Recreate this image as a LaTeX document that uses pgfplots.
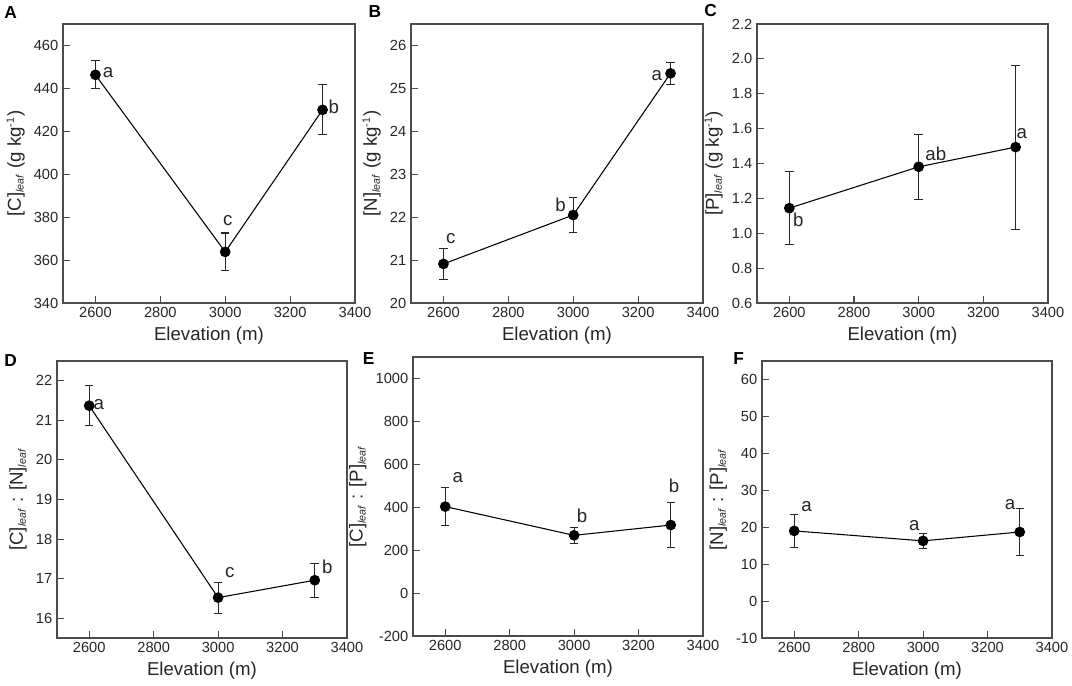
\documentclass[border=0pt]{standalone}
\usepackage{fontspec}
\setmainfont{Liberation Sans}
\usepackage{pgfplots}
\pgfplotsset{compat=1.18}
\newcommand{\lf}{\textsubscript{\fontsize{8}{8}\selectfont\textit{leaf}}}
\newcommand{\inv}{\textsuperscript{\fontsize{8}{8}\selectfont -1}}
\pgfplotsset{
 panel/.style={
   scale only axis, anchor=south west,
   xmin=2500, xmax=3400, xtick={2600,2800,3000,3200,3400},
   tick align=inside, xtick pos=bottom, ytick pos=left,
   major tick length=5.5pt,
   axis line style={line width=0.9pt, black!70},
   every tick/.style={line width=0.8pt, black!70},
   tick label style={font=\fontsize{11}{13}\selectfont, text=black!85},
   label style={font=\fontsize{14}{16}\selectfont, text=black!85},
   xlabel={Elevation (m)},
   /pgf/number format/assume math mode=true,
   /pgf/number format/1000 sep={},
   clip=false,
 },
 dat/.style={black, line width=0.8pt, mark=*, mark size=3.6pt, mark options={solid, fill=black},
   error bars/.cd, y dir=both, y explicit, error bar style={line width=0.8pt, black!85},
   error mark options={line width=0.8pt, mark size=3.2pt, rotate=90, black!85}},
}
\tikzset{
 lab/.style={font=\fontsize{14}{16}\selectfont, inner sep=0pt, text=black!85},
 pl/.style={font=\bfseries\fontsize{13}{13}\selectfont, inner sep=0pt, anchor=base west},
}
\begin{document}
\begin{tikzpicture}
\path[use as bounding box] (0,0) rectangle (804pt,514.5pt);
% A
\begin{axis}[panel, at={(47.25pt,287.25pt)}, width=219pt, height=209.25pt,
  ymin=340, ymax=470, ytick={340,360,...,460},
  ylabel={[C]\lf{} (g kg\inv)}]
\addplot+[dat] coordinates {(2600,446.3) +- (0,6.5) (3000,363.8) +- (0,8.8) (3300,430.0) +- (0,11.7)};
\node[lab] at (axis cs:2639,447.5) {a};
\node[lab] at (axis cs:3008,378.3) {c};
\node[lab] at (axis cs:3335,431.3) {b};
\end{axis}
% B
\begin{axis}[panel, at={(308.25pt,287.25pt)}, width=219pt, height=209.25pt,
  ymin=20, ymax=26.5, ytick={20,21,...,26},
  ylabel={[N]\lf{} (g kg\inv)}]
\addplot+[dat] coordinates {(2600,20.91) +- (0,0.36) (3000,22.05) +- (0,0.40) (3300,25.35) +- (0,0.26)};
\node[lab] at (axis cs:2623,21.5) {c};
\node[lab] at (axis cs:2961,22.28) {b};
\node[lab] at (axis cs:3258,25.29) {a};
\end{axis}
% C
\begin{axis}[panel, at={(567.75pt,287.25pt)}, width=218.25pt, height=209.25pt,
  ymin=0.6, ymax=2.2, ytick={0.6,0.8,...,2.2},
  yticklabel style={/pgf/number format/.cd, fixed, fixed zerofill, precision=1},
  ylabel={[P]\lf{} (g kg\inv)}]
\addplot+[dat] coordinates {(2600,1.144) +- (0,0.21) (3000,1.381) +- (0,0.185) (3300,1.494) +- (0,0.47)};
\node[lab] at (axis cs:2628,1.075) {b};
\node[lab] at (axis cs:3053,1.457) {ab};
\node[lab] at (axis cs:3319,1.572) {a};
\end{axis}
% D
\begin{axis}[panel, at={(42.75pt,36pt)}, width=217.5pt, height=207.75pt,
  ymin=15.5, ymax=22.5, ytick={16,17,...,22},
  ylabel={[C]\lf{} : [N]\lf}]
\addplot+[dat] coordinates {(2600,21.37) +- (0,0.51) (3000,16.52) +- (0,0.39) (3300,16.96) +- (0,0.43)};
\node[lab] at (axis cs:2630,21.40) {a};
\node[lab] at (axis cs:3036,17.16) {c};
\node[lab] at (axis cs:3339,17.29) {b};
\end{axis}
% E
\begin{axis}[panel, at={(309.75pt,37.5pt)}, width=217.5pt, height=209.25pt,
  ymin=-200, ymax=1100, ytick={-200,0,...,1000},
  ylabel={[C]\lf{} : [P]\lf}]
\addplot+[dat] coordinates {(2600,403) +- (0,87) (3000,269) +- (0,37) (3300,317) +- (0,103)};
\node[lab] at (axis cs:2639,537) {a};
\node[lab] at (axis cs:3025,362) {b};
\node[lab] at (axis cs:3310,500) {b};
\end{axis}
% F
\begin{axis}[panel, at={(571.5pt,36pt)}, width=217.5pt, height=207.75pt,
  ymin=-10, ymax=65, ytick={-10,0,...,60},
  ylabel={[N]\lf{} : [P]\lf}]
\addplot+[dat] coordinates {(2600,19.0) +- (0,4.4) (3000,16.3) +- (0,2.1) (3300,18.7) +- (0,6.3)};
\node[lab] at (axis cs:2638,25.7) {a};
\node[lab] at (axis cs:2973,20.4) {a};
\node[lab] at (axis cs:3270,26.0) {a};
\end{axis}
\node[pl] at (3pt,500.8pt) {A};
\node[pl] at (276.2pt,501.5pt) {B};
\node[pl] at (528pt,502pt) {C};
\node[pl] at (3pt,239.8pt) {D};
\node[pl] at (272pt,241pt) {E};
\node[pl] at (549.75pt,241pt) {F};
\end{tikzpicture}
\end{document}
